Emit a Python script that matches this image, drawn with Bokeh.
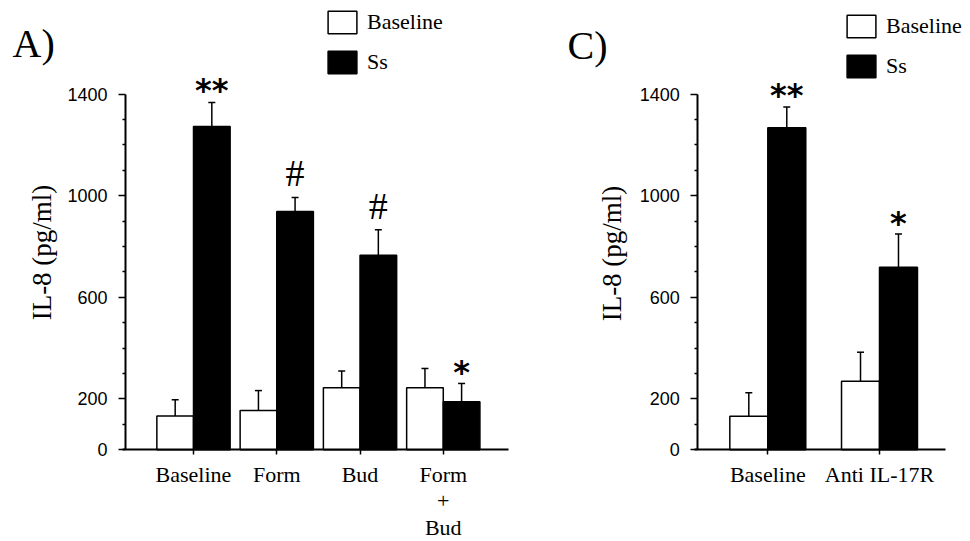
import numpy as np
from bokeh.plotting import figure
from bokeh.models import (Range1d, FixedTicker, Whisker, TeeHead, ColumnDataSource,
                          Legend, LegendItem, Label)
from bokeh.layouts import row
from bokeh.embed import file_html
from bokeh.resources import INLINE

# ---------------- data ----------------
cats_a = ["Baseline", "Form", "Bud", "Form\n+\nBud"]
base_a = [133, 155, 244, 244]
base_err_a = [64, 78, 66, 76]
ss_a = [1272, 938, 766, 189]
ss_err_a = [95, 55, 100, 72]
marks_a = ["**", "#", "#", "*"]

cats_c = ["Baseline", "Anti IL-17R"]
base_c = [132, 270]
base_err_c = [92, 114]
ss_c = [1267, 718]
ss_err_c = [82, 131]
marks_c = ["**", "*"]

y_major = [0, 200, 600, 1000, 1400]
y_minor = [100, 300, 400, 500, 700, 800, 900, 1100, 1200, 1300]
legend_names = ["Baseline", "Ss"]
y_label = "IL-8 (pg/ml)"

SERIF = "Liberation Serif"
SANS = "Liberation Sans"
MARK_STYLE = {  # font, size, weight, pixel offset
    "*": ("DejaVu Sans", "32px", "bold", 8),
    "**": ("DejaVu Sans", "32px", "bold", 7),
    "#": (SERIF, "38px", "normal", -3),
}

H = 541
Y0_PX = 449.3          # pixel row of value 0
PX_PER_UNIT = 0.25414  # pixels per pg/ml


def make_panel(title, cats, base, base_err, ss, ss_err, marks, width, px_per_cat,
               first_px, axis_left_px, axis_right_px, bar_w, legend_loc,
               title_px, ylabel_px):
    idx = np.arange(len(cats))
    base = np.array(base, dtype=float)
    ss = np.array(ss, dtype=float)
    src = ColumnDataSource(dict(
        xb=idx - bar_w / 2, xs=idx + bar_w / 2,
        base=base, ss=ss,
        base_hi=base + np.array(base_err), ss_hi=ss + np.array(ss_err),
        marks=marks,
        mfont=[MARK_STYLE[m][0] for m in marks],
        msize=[MARK_STYLE[m][1] for m in marks],
        mstyle=[MARK_STYLE[m][2] for m in marks],
        moff=[MARK_STYLE[m][3] for m in marks],
    ))

    def xd(px):  # pixel column -> data x
        return (px - first_px) / px_per_cat

    def yd(py):  # pixel row -> data y
        return (Y0_PX - py) / PX_PER_UNIT

    p = figure(width=width, height=H,
               x_range=Range1d(xd(0), xd(width)), y_range=Range1d(yd(H), yd(0)),
               output_backend="svg", toolbar_location=None,
               min_border_left=0, min_border_right=0,
               min_border_top=0, min_border_bottom=0)
    p.outline_line_color = None
    p.grid.visible = False
    p.background_fill_color = "white"

    rb = p.vbar(x="xb", top="base", bottom=0, width=bar_w, fill_color="white",
                line_color="black", line_width=1.5, source=src)
    rs = p.vbar(x="xs", top="ss", bottom=0, width=bar_w, fill_color="black",
                line_color="black", line_width=1.5, source=src)

    for lo, hi, xcol in (("base", "base_hi", "xb"), ("ss", "ss_hi", "xs")):
        w = Whisker(base=xcol, lower=lo, upper=hi, source=src, line_width=1.5,
                    line_color="black", lower_head=None,
                    upper_head=TeeHead(size=7, line_width=1.5, line_color="black"))
        p.add_layout(w)

    p.text(x="xs", y="ss_hi", text="marks", source=src, text_align="center",
           text_baseline="bottom", y_offset="moff", text_font="mfont",
           text_font_size="msize", text_font_style="mstyle", text_color="black")

    # y axis, pinned at the left edge of the bar area
    ya = p.yaxis[0]
    ya.fixed_location = xd(axis_left_px)
    ya.bounds = (0, 1400)
    ya.ticker = FixedTicker(ticks=y_major, minor_ticks=y_minor)
    ya.major_label_text_font = SANS
    ya.major_label_text_font_size = "18px"
    ya.major_label_text_color = "black"
    ya.major_label_standoff = 11
    ya.major_tick_out = 7
    ya.major_tick_in = 0
    ya.minor_tick_out = 3
    ya.minor_tick_in = 0
    ya.axis_line_width = 2
    ya.major_tick_line_width = 1.5
    ya.minor_tick_line_width = 1.5

    # x axis, pinned at value 0
    xa = p.xaxis[0]
    xa.fixed_location = 0
    xa.bounds = (xd(axis_left_px - 3), xd(axis_right_px))
    xa.ticker = FixedTicker(ticks=[int(i) for i in idx], minor_ticks=[])
    xa.major_label_overrides = {int(i): c for i, c in enumerate(cats)}
    xa.major_label_text_font = SERIF
    xa.major_label_text_font_size = "22px"
    xa.major_label_text_color = "black"
    xa.major_label_text_line_height = 1.06
    xa.major_label_standoff = 7
    xa.major_tick_out = 5
    xa.major_tick_in = 0
    xa.minor_tick_out = 0
    xa.axis_line_width = 2
    xa.major_tick_line_width = 1.5

    # y-axis title
    p.add_layout(Label(x=xd(ylabel_px[0]), y=yd(ylabel_px[1]), text=y_label,
                       angle=90, angle_units="deg", text_font=SERIF,
                       text_font_size="27px", text_color="black",
                       text_align="center", text_baseline="middle"))

    legend = Legend(items=[LegendItem(label=legend_names[0], renderers=[rb]),
                           LegendItem(label=legend_names[1], renderers=[rs])],
                    location=legend_loc, orientation="vertical",
                    glyph_width=36, glyph_height=28, spacing=12, padding=0, margin=0,
                    label_standoff=7, label_text_font=SERIF, label_text_font_size="22px",
                    label_text_color="black",
                    border_line_color=None, background_fill_alpha=0)
    p.add_layout(legend, "center")

    p.add_layout(Label(x=xd(title_px[0]), y=yd(title_px[1]), text=title, text_font=SERIF,
                       text_font_size="40px", text_color="black",
                       text_baseline="alphabetic", text_align="left"))
    return p


pa = make_panel("A)", cats_a, base_a, base_err_a, ss_a, ss_err_a, marks_a,
                width=545, px_per_cat=83.26, first_px=193, axis_left_px=125,
                axis_right_px=508, bar_w=0.44, legend_loc=(324, 465),
                title_px=(12, 43), ylabel_px=(41, 252))
pc = make_panel("C)", cats_c, base_c, base_err_c, ss_c, ss_err_c, marks_c,
                width=425, px_per_cat=111.7, first_px=767.3 - 545, axis_left_px=697.3 - 545,
                axis_right_px=945 - 545, bar_w=0.34, legend_loc=(298, 461),
                title_px=(567 - 545, 45), ylabel_px=(611 - 545, 253))

layout = row(pa, pc)
open("out.html", "w").write(file_html(layout, INLINE))
